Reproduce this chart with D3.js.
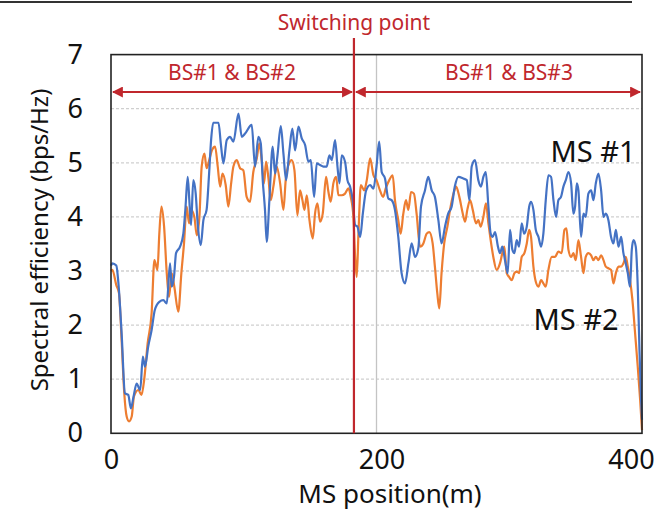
<!DOCTYPE html>
<html>
<head>
<meta charset="utf-8">
<script src="https://cdn.jsdelivr.net/npm/d3@7"></script>
<style>
  body { margin: 0; background: #fff; }
  text { font-family: "Noto Sans", "Open Sans", sans-serif; }
</style>
</head>
<body>
<div id="graph"></div>
<script>
// values
const xTicks = [0, 200, 400];
const yTicks = [0, 1, 2, 3, 4, 5, 6, 7];
const switchPos = 183;
const zoneLabels = ["BS#1 & BS#2", "BS#1 & BS#3"];
const seriesNames = ["MS #1", "MS #2"];

// MS #1 (blue)
const ms1Pos = [0, 1, 4, 5.5, 8, 10.5, 13, 15, 17, 19.3, 22, 24, 25.6, 28, 30.6, 33, 36.4, 39.4, 42, 44.5,
  45.7, 47.5, 49, 52, 54.5, 56, 57.8, 59, 60.3, 62, 63.8, 65.3, 67.6, 69.6, 72, 73.9, 75.4, 77, 81, 82.7,
  84.7, 87.2, 89.7, 92.2, 96, 98.5, 101, 106, 108.5, 111, 112.8, 114.3, 116, 117.3, 119.3, 121.8, 123.6, 125.3, 127.9, 129.9,
  131.9, 134.4, 136.6, 138.7, 141.2, 143.7, 146.2, 148.7, 150.5, 153, 155, 157.5, 160, 162.5, 164.5, 166.3, 168.8, 170.6, 172.1, 173.8,
  176.3, 178.1, 180.1, 182.1, 183.9, 185.6, 187.7, 189.7, 192.2, 195.2, 197.7, 200, 202, 203.9, 206.4, 208.9, 211.4, 213.9, 216.4, 218.9,
  221.5, 224, 226.5, 229, 231.5, 233.5, 236.5, 239, 241.6, 244, 246.6, 249, 251.6, 254, 256.6, 259, 261.7, 265.4, 268, 270,
  271.7, 274.2, 276.7, 278.7, 280.5, 282.3, 284.3, 286, 287.5, 289.3, 291.5, 293, 294.8, 296.8, 298.8, 300.6, 302.4, 303.9, 305.6, 307.4,
  309.4, 311.2, 313.2, 315, 316.4, 318.2, 320, 322, 324, 325.7, 327.5, 329.5, 331.5, 333.3, 335.3, 337, 339, 340.8, 342.6, 344.6,
  346.6, 348.3, 349.6, 350.9, 352.1, 354.1, 355.9, 357.6, 359.6, 361.7, 363.4, 365.2, 367.2, 369.2, 371, 372.7, 374.7, 376.7, 378.5, 380.3,
  382.3, 384.3, 386, 387.8, 389.3, 391, 392.3, 393.6, 395.3, 396.8, 398.1, 399.3, 400];
const ms1Eff = [3.1, 3.14, 3.1, 2.8, 1.85, 0.74, 0.71, 0.46, 0.68, 0.92, 0.8, 1.42, 1.23, 1.6, 1.91, 2.28, 2.43, 2.46, 2.4, 3.14,
  2.71, 2.9, 3.33, 3.45, 3.69, 4.13, 4.74, 4.31, 3.85, 4.68, 4.43, 3.88, 3.48, 3.94, 4.13, 4.8, 5.42, 5.74, 5.74, 5.36,
  4.99, 5.42, 5.48, 5.39, 5.91, 5.48, 5.54, 5.7, 4.93, 5.48, 5.36, 4.68, 4.13, 3.54, 4.31, 5.3, 4.8, 5.11, 5.68, 5.17,
  4.68, 5.23, 5.63, 5.23, 5.67, 5.45, 5.33, 5.02, 5.05, 4.37, 4.99, 4.96, 4.93, 4.93, 5.14, 5.05, 5.42, 4.93, 4.62, 5.14,
  5.02, 4.68, 4.56, 4.31, 3.85, 3.82, 3.63, 4.06, 4.49, 4.59, 4.52, 4.93, 5.39, 4.83, 4.71, 4.34, 4.31, 4.13, 3.63, 2.96,
  2.77, 3.14, 3.51, 3.26, 3.42, 4.19, 4.49, 4.74, 4.49, 4.37, 3.94, 3.51, 3.82, 4.06, 4.19, 4.56, 4.74, 4.71, 4.68, 4.31,
  4.93, 5.05, 4.68, 4.56, 4.74, 4.83, 4.19, 3.69, 3.63, 3.72, 3.45, 3.33, 3.45, 3.2, 2.96, 3.76, 3.39, 3.33, 3.57, 3.45,
  3.88, 3.69, 3.82, 4.19, 4.28, 4.13, 3.76, 3.63, 3.45, 3.69, 4.31, 4.77, 4.74, 4.31, 4.0, 4.31, 4.37, 4.56, 4.68, 4.83,
  4.62, 4.06, 4.19, 4.62, 4.49, 3.63, 4.06, 4.0, 4.43, 4.49, 4.31, 4.62, 4.8, 4.49, 4.0, 4.06, 3.94, 3.63, 3.51, 3.76,
  3.45, 3.63, 3.33, 3.14, 2.96, 2.71, 3.39, 3.57, 3.45, 2.71, 1.54, 0.62, 0.25];

// MS #2 (orange)
const ms2Pos = [0, 1, 4, 6, 8, 10, 11.8, 13.6, 15.6, 17.3, 20.6, 23, 25, 27.6, 30.6, 32.7, 35, 36.4, 38, 40,
  42, 43.7, 45.7, 47.7, 50.7, 53, 55, 57, 58.8, 60.3, 62.8, 64.6, 66.6, 68.3, 70.4, 72, 74, 76, 78.4, 80.4,
  82.2, 84, 86.4, 88.4, 90.5, 92.2, 94.7, 97.2, 99.7, 102.2, 104.7, 107.2, 109.8, 111.8, 113.5, 115.3, 116.8, 118.6, 120.3, 122.3,
  124.8, 127.4, 129.9, 131.6, 134.1, 136.1, 138.2, 140.4, 142.4, 144.2, 145.7, 147.5, 149.5, 152, 153.7, 155.5, 157.5, 159.5, 162, 163.8,
  165.5, 167.5, 169.6, 171.3, 173.8, 176.3, 178.9, 180.6, 182.6, 183.9, 185.1, 186.4, 188.2, 190.7, 192.7, 195.2, 197.7, 200, 202.6, 205,
  207, 209.6, 212.2, 213.9, 216.4, 218.2, 220.2, 222.2, 224, 226, 228.2, 230.2, 232.8, 235.3, 237.8, 239.8, 242.3, 244, 245.8, 247.3,
  249, 251, 253.4, 255.4, 258, 260, 262.4, 265, 266.7, 268.4, 270.5, 272.5, 275, 276.7, 278.5, 280.5, 282.5, 284.3, 286, 288,
  290.5, 293, 294.8, 296.3, 298.1, 299.9, 301.9, 303.9, 305.6, 307.4, 309.4, 311.4, 313.2, 315, 316.4, 318.2, 320, 322, 324, 325.7,
  327.5, 329.5, 332, 334.5, 337, 339.5, 341.6, 343.1, 344.6, 346.6, 348.3, 350.1, 352.1, 354.1, 355.9, 357.6, 359.6, 361.7, 363.4, 365.2,
  367.2, 369.2, 371, 372.7, 374.7, 376.7, 378.5, 380.3, 382.3, 384.3, 386, 387.8, 389.3, 391, 392.8, 394.8, 396.8, 398.6, 400];
const ms2Eff = [3.0, 3.02, 2.74, 2.59, 1.72, 0.74, 0.31, 0.22, 0.31, 0.68, 0.8, 0.71, 0.99, 1.66, 2.22, 3.2, 3.02, 3.69, 4.19, 3.82,
  2.96, 2.52, 2.96, 2.71, 2.25, 2.96, 3.51, 4.19, 3.88, 4.13, 4.0, 3.66, 4.0, 4.93, 5.17, 4.9, 5.05, 5.23, 5.3, 4.93,
  4.56, 4.8, 4.59, 4.19, 4.62, 4.93, 5.05, 4.9, 4.86, 4.37, 4.28, 4.83, 5.08, 5.36, 5.05, 4.62, 5.02, 4.71, 4.31, 4.56,
  4.93, 4.62, 4.13, 4.68, 4.99, 5.05, 4.86, 4.03, 4.49, 4.31, 4.13, 4.4, 3.94, 3.6, 4.06, 4.25, 3.91, 4.06, 4.74, 4.46,
  4.28, 4.62, 4.74, 4.4, 4.4, 4.43, 4.53, 4.37, 4.0, 3.26, 2.89, 3.69, 4.59, 4.49, 4.68, 5.08, 4.77, 4.68, 4.49, 4.37,
  4.53, 4.68, 4.77, 4.31, 3.94, 3.69, 4.06, 4.31, 4.13, 4.46, 4.43, 4.06, 3.45, 3.51, 3.69, 3.72, 3.51, 3.08, 2.59, 2.31,
  2.96, 3.51, 3.82, 4.13, 4.43, 4.56, 4.37, 4.06, 3.91, 4.13, 4.31, 4.13, 3.88, 3.94, 3.82, 4.0, 4.25, 3.88, 3.57, 3.26,
  3.02, 3.14, 3.33, 3.45, 2.96, 2.89, 2.83, 2.96, 2.99, 2.96, 3.26, 3.33, 3.51, 3.76, 3.63, 3.08, 2.8, 2.71, 2.83, 2.77,
  2.71, 3.02, 3.26, 3.26, 3.36, 3.33, 3.76, 3.79, 3.39, 3.26, 3.33, 3.2, 3.57, 3.26, 2.96, 3.26, 3.33, 3.29, 3.2, 3.26,
  3.2, 3.29, 3.2, 3.08, 3.05, 3.02, 2.77, 2.96, 3.08, 3.08, 3.14, 3.26, 3.08, 2.83, 2.46, 1.85, 1.23, 0.62, 0.06];

const w = 663;
const h = 511;
const red = "#c0272d";
const blue = "#4472c4";
const orange = "#ed7d31";

const x = d3.scaleLinear().domain([0, 400]).range([111, 642]);
const y = d3.scaleLinear().domain([0, 7]).range([433.3, 54.6]);

const svg = d3.select("#graph")
  .append("svg")
  .attr("width", w)
  .attr("height", h);

// cut-off line left over from the figure above
svg.append("line")
  .attr("x1", 0).attr("x2", 632).attr("y1", 2).attr("y2", 2)
  .style("stroke", "#333").style("stroke-width", 2);

// grid
svg.selectAll("line.hgrid")
  .data(yTicks.filter(d => d > 0 && d < 7))
  .enter()
  .append("line")
  .attr("class", "hgrid")
  .attr("x1", x(0)).attr("x2", x(400))
  .attr("y1", d => y(d)).attr("y2", d => y(d))
  .style("stroke", "#cfcfcf")
  .style("stroke-width", 1.3)
  .style("stroke-dasharray", "3,2");

svg.append("line")
  .attr("x1", x(200)).attr("x2", x(200))
  .attr("y1", y(0)).attr("y2", y(7))
  .style("stroke", "#c4c4c4")
  .style("stroke-width", 1.3);

// series
const line = (pos, eff) => d3.line()
  .x((d, i) => x(pos[i]))
  .y(d => y(d))
  .curve(d3.curveMonotoneX)(eff);

svg.append("path")
  .attr("d", line(ms2Pos, ms2Eff))
  .style("fill", "none")
  .style("stroke", orange)
  .style("stroke-width", 2.2)
  .style("stroke-linejoin", "round");

svg.append("path")
  .attr("d", line(ms1Pos, ms1Eff))
  .style("fill", "none")
  .style("stroke", blue)
  .style("stroke-width", 2.2)
  .style("stroke-linejoin", "round");

// plot frame
svg.append("rect")
  .attr("x", x(0)).attr("y", y(7))
  .attr("width", x(400) - x(0))
  .attr("height", y(0) - y(7))
  .style("fill", "none")
  .style("stroke", "#222")
  .style("stroke-width", 1.6);

// axes (labels only)
const yAxis = svg.append("g")
  .attr("transform", `translate(${x(0)},0)`)
  .call(d3.axisLeft(y).tickValues(yTicks).tickSize(0).tickPadding(28).tickFormat(d3.format("d")));
yAxis.select(".domain").remove();
yAxis.selectAll("text")
  .style("font-size", "27px")
  .style("fill", "#111")
  .style("font-family", "'Noto Sans', sans-serif");

const xAxis = svg.append("g")
  .attr("transform", `translate(0,${y(0)})`)
  .call(d3.axisBottom(x).tickValues(xTicks).tickSize(0).tickPadding(17).tickFormat(d3.format("d")));
xAxis.select(".domain").remove();
xAxis.selectAll("text")
  .style("font-size", "27px")
  .style("fill", "#111")
  .style("font-family", "'Noto Sans', sans-serif")
  .attr("dx", d => d === 400 ? -11 : (d === 200 ? 5 : 0));

// axis titles
svg.append("text")
  .attr("x", 390).attr("y", 503)
  .attr("text-anchor", "middle")
  .style("font-size", "26px")
  .style("fill", "#111")
  .text("MS position(m)");

svg.append("text")
  .attr("transform", "translate(48,240) rotate(-90)")
  .attr("text-anchor", "middle")
  .style("font-size", "24px")
  .style("fill", "#111")
  .text("Spectral efficiency (bps/Hz)");

// switching point
svg.append("line")
  .attr("x1", x(switchPos)).attr("x2", x(switchPos))
  .attr("y1", 38).attr("y2", y(0))
  .style("stroke", red)
  .style("stroke-width", 2.2);

svg.append("text")
  .attr("x", x(switchPos)).attr("y", 30)
  .attr("text-anchor", "middle")
  .style("font-size", "21px")
  .style("fill", red)
  .text("Switching point");

// zone arrows
const defs = svg.append("defs");
defs.append("marker")
  .attr("id", "arr")
  .attr("viewBox", "0 0 10 10")
  .attr("refX", 9).attr("refY", 5)
  .attr("markerWidth", 5).attr("markerHeight", 5)
  .attr("orient", "auto-start-reverse")
  .append("path")
  .attr("d", "M0,0L10,5L0,10Z")
  .style("fill", red);

const zones = [[0, switchPos], [switchPos, 400]];
const arrowY = 92;
svg.selectAll("line.zone")
  .data(zones)
  .enter()
  .append("line")
  .attr("class", "zone")
  .attr("x1", d => x(d[0]) + 2).attr("x2", d => x(d[1]) - 2)
  .attr("y1", arrowY).attr("y2", arrowY)
  .attr("marker-start", "url(#arr)")
  .attr("marker-end", "url(#arr)")
  .style("stroke", red)
  .style("stroke-width", 2.2);

svg.selectAll("text.zone")
  .data(zones)
  .enter()
  .append("text")
  .attr("class", "zone")
  .attr("x", (d, i) => i === 0 ? 232 : 509)
  .attr("y", 80)
  .attr("text-anchor", "middle")
  .style("font-size", "21px")
  .style("fill", red)
  .text((d, i) => zoneLabels[i]);

// series labels
svg.append("text")
  .attr("x", 593).attr("y", 162)
  .attr("text-anchor", "middle")
  .style("font-size", "29px")
  .style("fill", "#111")
  .text(seriesNames[0]);

svg.append("text")
  .attr("x", 576).attr("y", 330)
  .attr("text-anchor", "middle")
  .style("font-size", "29px")
  .style("fill", "#111")
  .text(seriesNames[1]);
</script>
</body>
</html>
